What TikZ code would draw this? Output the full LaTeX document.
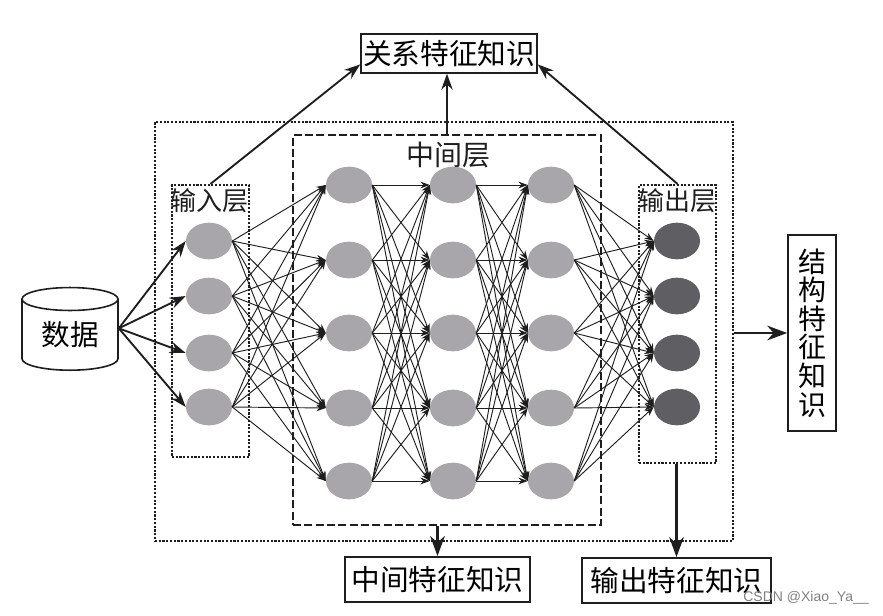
\documentclass[tikz,border=0pt]{standalone}
\usepackage{fontspec}
\usepackage{xcolor}
\setmainfont{Noto Sans CJK SC}
\newfontfamily\markfont{Liberation Sans}
\usetikzlibrary{arrows.meta, positioning, shapes.geometric, calc}
\definecolor{neurongray}{RGB}{168,166,170}
\definecolor{neurondark}{RGB}{95,94,98}
\definecolor{inkblack}{RGB}{30,30,30}
\begin{document}
\begin{tikzpicture}[x=0.75pt, y=-0.75pt,
    neuron/.style={ellipse, fill=neurongray, minimum width=34.5pt, minimum height=27.5pt, inner sep=0pt},
    layerbox/.style={rectangle, draw=inkblack, line width=1.6pt, dash pattern=on 1.6pt off 1.2pt, inner sep=0pt},
    knowbox/.style={rectangle, draw=inkblack, line width=1.2pt, align=center, inner sep=0pt, font=\fontsize{21.5}{21.4}\selectfont},
    meshline/.style={-{Stealth[length=7pt, width=5pt]}, line width=0.7pt, draw=inkblack},
    mainline/.style={-{Stealth[length=12pt, width=8.5pt]}, line width=1.4pt, draw=inkblack},
    straightline/.style={-{Stealth[length=15pt, width=11pt]}, line width=1.8pt, draw=inkblack},
    layertext/.style={font=\fontsize{19.5}{20}\selectfont, text=inkblack, inner sep=0pt}
]
\useasboundingbox (0,0) rectangle (883,615);
% frames
\node[layerbox, minimum width=433.5pt, minimum height=314.25pt] (outer) at (444,331.5) {};
\node[rectangle, draw=inkblack, line width=2.2pt, dash pattern=on 6pt off 2.5pt, minimum width=231pt, minimum height=292.5pt, inner sep=0pt] (midbox) at (447,330) {};
\node[layerbox, minimum width=57.75pt, minimum height=204pt] (inbox) at (210.5,321) {};
\node[layerbox, minimum width=57.75pt, minimum height=208.5pt] (outbox) at (677.5,324) {};
\node[layertext, font=\fontsize{21}{22}\selectfont] (midtext) at (448,155) {中间层};
\node[layertext] (intext) at (209,201) {输入层};
\node[layertext] (outtext) at (677,201) {输出层};
% neurons
\foreach \i/\y in {1/241,2/296,3/353,4/407} {
  \node[neuron] (in\i) at (209,\y) {};
  \node[neuron, fill=neurondark] (out\i) at (677,\y) {};
}
\foreach \i/\y in {1/185,2/260,3/333,4/408,5/481} {
  \node[neuron] (hida\i) at (349,\y) {};
  \node[neuron] (hidb\i) at (453,\y) {};
  \node[neuron] (hidc\i) at (551,\y) {};
}
% mesh
\foreach \i in {1,...,4} \foreach \j in {1,...,5} {
  \draw[meshline] (in\i.east) -- (hida\j.west);
  \draw[meshline] (hidc\j.east) -- (out\i.west);
}
\foreach \i in {1,...,5} \foreach \j in {1,...,5} {
  \draw[meshline] (hida\i.east) -- (hidb\j.west);
  \draw[meshline] (hidb\i.east) -- (hidc\j.west);
}
% data and knowledge boxes
\node[cylinder, shape border rotate=90, aspect=0.4, draw=inkblack, line width=1.2pt, minimum width=72pt, minimum height=62pt, inner sep=0pt, font=\fontsize{21.5}{22}\selectfont] (data) at (70,335) {数据};
\node[knowbox, minimum width=132pt, minimum height=29pt] (rel) at (449,53.5) {关系特征知识};
\node[knowbox, minimum width=139pt, minimum height=34pt] (midknow) at (437.5,579.5) {中间特征知识};
\node[knowbox, minimum width=142pt, minimum height=34pt] (outknow) at (676.5,580.5) {输出特征知识};
\node[knowbox, font=\fontsize{21}{21.4}\selectfont, minimum width=36pt, minimum height=147pt] (struct) at (812,333) {结\\构\\特\\征\\知\\识};
\foreach \i in {1,...,4} \draw[mainline] ([yshift=5pt]data.east) -- (in\i.west);
\draw[mainline] (inbox.north) -- (rel.187);
\draw[mainline] (outbox.north) -- (rel.-7);
\draw[mainline] (midbox.north) -- (midbox.north |- rel.south);
\draw[straightline] (midknow.north |- midbox.south) -- (midknow.north);
\draw[straightline] (outknow.north |- outbox.south) -- (outknow.north);
\draw[straightline] (outer.east |- struct.west) -- (struct.west);
\node[font=\markfont\fontsize{10.5}{12}\selectfont, text=gray, inner sep=0pt] (mark) at (806,598) {CSDN @Xiao\_Ya\_\_};
\end{tikzpicture}
\end{document}
